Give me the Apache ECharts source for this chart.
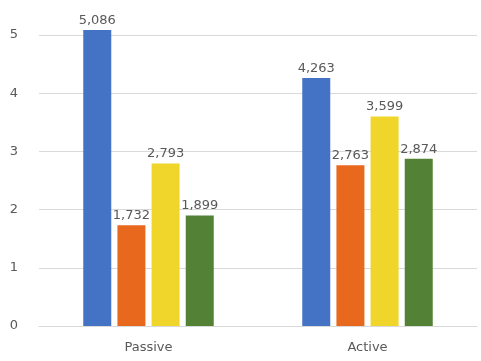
<!DOCTYPE html>
<html>
<head>
<meta charset="utf-8">
<script src="https://cdn.jsdelivr.net/npm/echarts@6/dist/echarts.min.js"></script>
<style>
  html, body { margin: 0; padding: 0; background: #fff; }
  #chart { width: 481px; height: 361px; }
</style>
</head>
<body>
<div id="chart"></div>
<script>
const categories = ['Passive', 'Active']
const seriesNames = ['Series 1', 'Series 2', 'Series 3', 'Series 4']
const blueValues = [5.086, 4.263]
const orangeValues = [1.732, 2.763]
const yellowValues = [2.793, 3.599]
const greenValues = [1.899, 2.874]
const colors = ['#4472c4', '#e8691e', '#f0d62b', '#538135']

const fmt = p => p.value.toFixed(3).replace('.', ',')
const font = 'DejaVu Sans'

const makeSeries = (name, data, i) => ({
  name,
  type: 'bar',
  data,
  clip: false,
  barWidth: 28,
  barGap: '22%',
  itemStyle: { color: colors[i] },
  label: {
    show: true,
    position: 'top',
    distance: 3,
    formatter: fmt,
    color: '#595959',
    fontFamily: font,
    fontSize: 13
  }
})

const chart = echarts.init(document.getElementById('chart'))
chart.setOption({
  animation: false,
  grid: { left: 39, right: 4, top: 35, bottom: 35 },
  xAxis: {
    type: 'category',
    data: categories,
    axisLine: { show: true, lineStyle: { color: '#d9d9d9' } },
    axisTick: { show: false },
    axisLabel: { color: '#595959', fontFamily: font, fontSize: 13, margin: 15 }
  },
  yAxis: {
    type: 'value',
    min: 0,
    max: 5,
    interval: 1,
    axisLine: { show: false },
    axisTick: { show: false },
    splitLine: { lineStyle: { color: '#d9d9d9' } },
    axisLabel: { color: '#595959', fontFamily: font, fontSize: 13, margin: 21 }
  },
  series: [
    makeSeries(seriesNames[0], blueValues, 0),
    makeSeries(seriesNames[1], orangeValues, 1),
    makeSeries(seriesNames[2], yellowValues, 2),
    makeSeries(seriesNames[3], greenValues, 3)
  ]
})
</script>
</body>
</html>
